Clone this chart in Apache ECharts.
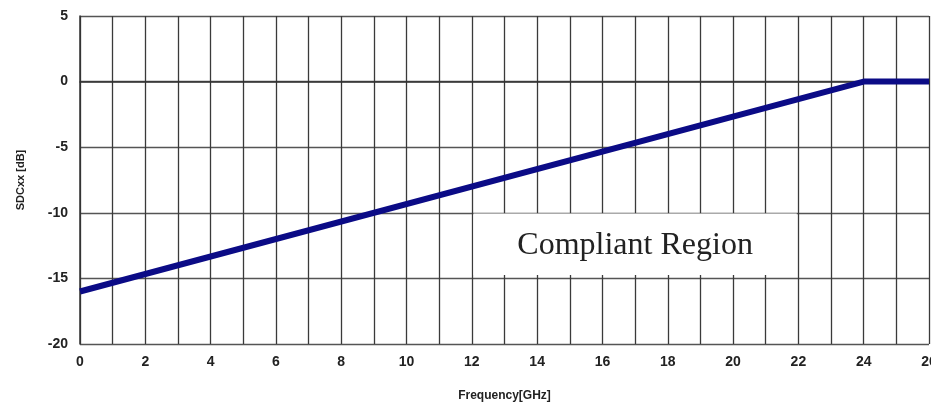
<!DOCTYPE html>
<html><head><meta charset="utf-8">
<script src="https://cdn.jsdelivr.net/npm/echarts@6/dist/echarts.min.js"></script>
<style>html,body{margin:0;padding:0;background:#fff}#c{width:931px;height:408px}</style>
</head><body><div id="c"></div>
<script>
var freqGHz = [0, 24, 26];
var sdcDb = [-16, 0, 0];
var xMin = 0, xMax = 26, xLabelStep = 2;
var yMin = -20, yMax = 5, yStep = 5;
var annotationText = 'Compliant Region';

var chart = echarts.init(document.getElementById('c'), null, {renderer: 'canvas'});
var labelFont = {color: '#222', fontFamily: 'Liberation Sans, Arial, sans-serif', fontWeight: 'bold', fontSize: 14};
chart.setOption({
  animation: false,
  grid: {left: 80, right: 2, top: 16, bottom: 64, containLabel: false, outerBoundsMode: 'none'},
  xAxis: {
    type: 'value', min: xMin, max: xMax, interval: 1,
    name: 'Frequency[GHz]', nameLocation: 'middle', nameGap: 46,
    nameTextStyle: {color: '#222', fontFamily: 'Liberation Sans, Arial, sans-serif', fontWeight: 'bold', fontSize: 12},
    axisLine: {show: true, lineStyle: {color: '#333', width: 1.5}},
    axisTick: {show: true, length: 4, inside: false, lineStyle: {color: '#333'}},
    axisLabel: Object.assign({margin: 11, hideOverlap: false, formatter: function (v) { return v % xLabelStep === 0 ? String(v) : ''; }}, labelFont),
    splitLine: {show: true, lineStyle: {color: '#3a3a3a', width: 1.3}}
  },
  yAxis: {
    type: 'value', min: yMin, max: yMax, interval: yStep,
    name: 'SDCxx [dB]', nameLocation: 'middle', nameGap: 54, nameRotate: 90,
    nameTextStyle: {color: '#222', fontFamily: 'Liberation Sans, Arial, sans-serif', fontWeight: 'bold', fontSize: 11},
    axisLine: {show: true, lineStyle: {color: '#333', width: 1.5}},
    axisTick: {show: false},
    axisLabel: Object.assign({margin: 12}, labelFont),
    splitLine: {show: true, lineStyle: {color: '#555', width: 1.3}}
  },
  series: [{
    type: 'line', data: freqGHz.map(function (f, i) { return [f, sdcDb[i]]; }),
    symbol: 'none', lineStyle: {color: '#0b0b86', width: 6}, z: 5
  }]
});

var p1 = chart.convertToPixel({gridIndex: 0}, [12.05, -10.05]);
var p2 = chart.convertToPixel({gridIndex: 0}, [21.95, -14.75]);
chart.setOption({
  graphic: [{
    type: 'group', z: 10,
    children: [
      {type: 'rect', shape: {x: p1[0], y: p1[1], width: p2[0] - p1[0], height: p2[1] - p1[1]}, style: {fill: '#fff'}},
      {type: 'text', x: (p1[0] + p2[0]) / 2, y: (p1[1] + p2[1]) / 2 + 1,
       style: {text: annotationText, fill: '#222', font: '32px "Liberation Serif", "Times New Roman", serif', textAlign: 'center', textVerticalAlign: 'middle'}}
    ]
  }]
});
</script></body></html>
